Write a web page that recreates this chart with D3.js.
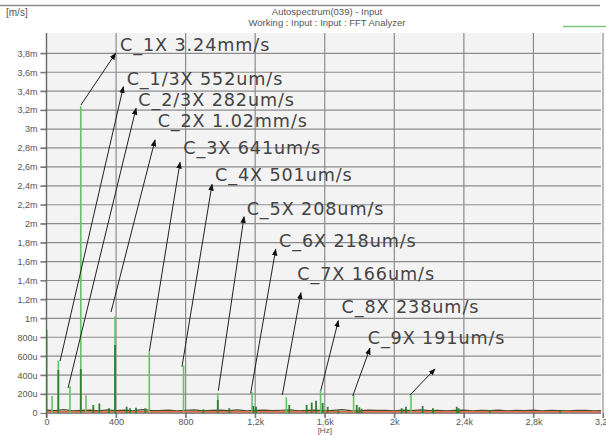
<!DOCTYPE html>
<html lang="en">
<head>
    <meta charset="UTF-8">
    <title>Autospectrum(039) - Input</title>
    <script src="https://d3js.org/d3.v7.min.js"></script>
    <style>
        body { margin: 0; background: #fff; }
        .tick-label { font-family: "Liberation Sans", Arial, sans-serif; font-size: 9px; fill: #555; }
        .anno { font-family: "DejaVu Sans", sans-serif; font-size: 17.6px; letter-spacing: 0.9px; fill: #444; }
    </style>
</head>
<body>
    <svg id="chart" width="606" height="435"></svg>

    <script>
        // frequency axis (Hz) and level axis (um/s)
        const xTickValues = [0, 400, 800, 1200, 1600, 2000, 2400, 2800, 3200];
        const xTickLabels = ["0", "400", "800", "1,2k", "1,6k", "2k", "2,4k", "2,8k", "3,2k"];
        const yTickValues = d3.range(0, 3801, 200);
        const yTickLabels = ["0", "200u", "400u", "600u", "800u", "1m", "1,2m", "1,4m", "1,6m", "1,8m",
            "2m", "2,2m", "2,4m", "2,6m", "2,8m", "3m", "3,2m", "3,4m", "3,6m", "3,8m"];

        // light green trace: [Hz, um/s]
        const peaksLight = [
            [32, 180], [68, 552], [135, 282], [197, 3240], [227, 185], [394, 1020], [591, 641],
            [788, 501], [985, 208], [1182, 218], [1379, 166], [1576, 238], [1766, 191], [2096, 192]
        ];
        // dark green trace: [Hz, um/s]
        const peaksDark = [
            [0, 880], [68, 455], [197, 465], [394, 718], [985, 137], [269, 85], [304, 100], [359, 50],
            [461, 67], [480, 50], [515, 55], [568, 50], [902, 40], [1051, 50], [1190, 74], [1205, 67],
            [1396, 85], [1496, 85], [1525, 110], [1550, 130], [1588, 106], [1617, 66], [1678, 30],
            [1784, 85], [1799, 60], [1812, 45], [2042, 50], [2067, 65], [2163, 74], [2222, 50],
            [2359, 66], [2370, 50], [2550, 30], [2953, 25]
        ];
        // low-level floor under the peaks, every 50 Hz (um/s)
        const floorNoise = [30, 25, 35, 22, 28, 30, 24, 33, 26, 30, 22, 35, 27, 25, 31, 24, 29, 33, 22, 27,
            30, 26, 34, 23, 28, 31, 25, 29, 33, 24, 27, 30, 22, 28, 35, 26, 24, 31, 27, 29,
            23, 30, 26, 33, 25, 28, 22, 27, 30, 24, 29, 26, 31, 23, 27, 25, 30, 22, 28, 26,
            24, 29, 27, 23, 26];
        const redFloor = [[0, 14], [3200, 14]];

        // annotations: tail at peak, head near label, label anchor (all in Hz / um/s)
        const annotations = [
            { text: "C_1X 3.24mm/s", tail: [198, 3254], head: [397, 3800], label: [423, 3888] },
            { text: "C_1/3X 552um/s", tail: [78, 549], head: [442, 3447], label: [461, 3536] },
            { text: "C_2/3X 282um/s", tail: [124, 264], head: [515, 3219], label: [528, 3307] },
            { text: "C_2X 1.02mm/s", tail: [371, 1067], head: [624, 2884], label: [639, 3088] },
            { text: "C_3X 641um/s", tail: [591, 648], head: [768, 2649], label: [787, 2807] },
            { text: "C_4X 501um/s", tail: [779, 489], head: [952, 2416], label: [969, 2514] },
            { text: "C_5X 208um/s", tail: [988, 236], head: [1136, 2074], label: [1151, 2163] },
            { text: "C_6X 218um/s", tail: [1174, 208], head: [1318, 1730], label: [1337, 1820] },
            { text: "C_7X 166um/s", tail: [1356, 190], head: [1463, 1271], label: [1442, 1476] },
            { text: "C_8X 238um/s", tail: [1577, 236], head: [1678, 975], label: [1697, 1123] },
            { text: "C_9X 191um/s", tail: [1761, 180], head: [1860, 684], label: [1847, 800] },
            { text: "", tail: [2090, 190], head: [2234, 465], label: null }
        ];

        const plot = { left: 46.5, right: 601, top: 33, bottom: 413 };

        const svg = d3.select("#chart");

        const x = d3.scaleLinear().domain([0, 3200]).range([plot.left, 603]);
        const y = d3.scaleLinear().domain([0, 3800]).range([plot.bottom, 53.3]);

        // header
        svg.append("line")
            .attr("x1", 0).attr("x2", 600).attr("y1", 5.5).attr("y2", 5.5)
            .attr("stroke", "#8a8a8a").attr("stroke-width", 1.5);
        svg.append("text")
            .attr("class", "tick-label")
            .attr("x", 6).attr("y", 16)
            .style("font-size", "10px")
            .text("[m/s]");
        svg.append("text")
            .attr("class", "tick-label")
            .attr("x", 327).attr("y", 15)
            .attr("text-anchor", "middle")
            .style("font-size", "9.5px")
            .text("Autospectrum(039) - Input");
        svg.append("text")
            .attr("class", "tick-label")
            .attr("x", 327).attr("y", 26)
            .attr("text-anchor", "middle")
            .style("font-size", "9.5px")
            .text("Working : Input : Input : FFT Analyzer");
        svg.append("line")
            .attr("x1", 563).attr("x2", 606).attr("y1", 26.5).attr("y2", 26.5)
            .attr("stroke", "#7cc47c").attr("stroke-width", 1.5);

        // plot background
        svg.append("rect")
            .attr("x", plot.left).attr("y", plot.top)
            .attr("width", plot.right - plot.left).attr("height", plot.bottom - plot.top)
            .attr("fill", "#f3f3f3");

        svg.append("defs").append("clipPath").attr("id", "clip")
            .append("rect")
            .attr("x", plot.left).attr("y", plot.top)
            .attr("width", plot.right - plot.left).attr("height", plot.bottom - plot.top + 1);

        // grid
        svg.append("g").selectAll("line")
            .data(yTickValues.slice(1))
            .join("line")
            .attr("x1", plot.left - 6).attr("x2", plot.right)
            .attr("y1", d => y(d)).attr("y2", d => y(d))
            .attr("stroke", "#8c8c8c").attr("stroke-width", 1.2);
        svg.append("g").selectAll("line")
            .data(xTickValues.slice(1))
            .join("line")
            .attr("x1", d => x(d)).attr("x2", d => x(d))
            .attr("y1", plot.top).attr("y2", plot.bottom + 5)
            .attr("stroke", "#8c8c8c").attr("stroke-width", 1.2);

        // axes
        const yAxis = svg.append("g")
            .attr("transform", `translate(${plot.left},0)`)
            .call(d3.axisLeft(y).tickValues(yTickValues).tickSize(6).tickPadding(3)
                .tickFormat((d, i) => yTickLabels[i]));
        const xAxis = svg.append("g")
            .attr("transform", `translate(0,${plot.bottom})`)
            .call(d3.axisBottom(x).tickValues(xTickValues).tickSize(5).tickPadding(1)
                .tickFormat((d, i) => xTickLabels[i]));
        [yAxis, xAxis].forEach(g => {
            g.select(".domain").remove();
            g.selectAll(".tick line").attr("stroke", "#777").attr("stroke-width", 1.2);
            g.selectAll(".tick text").attr("class", "tick-label").attr("fill", null);
        });
        svg.append("line")
            .attr("x1", plot.left).attr("x2", plot.left)
            .attr("y1", plot.top).attr("y2", plot.bottom + 5)
            .attr("stroke", "#666").attr("stroke-width", 1.4);
        svg.append("line")
            .attr("x1", plot.left).attr("x2", plot.right)
            .attr("y1", plot.bottom).attr("y2", plot.bottom)
            .attr("stroke", "#666").attr("stroke-width", 1.4);
        svg.append("text")
            .attr("class", "tick-label")
            .attr("x", x(1600)).attr("y", 433)
            .attr("text-anchor", "middle")
            .style("font-size", "8px")
            .text("[Hz]");

        // spectrum traces
        const traces = svg.append("g").attr("clip-path", "url(#clip)");

        traces.append("path")
            .datum(floorNoise)
            .attr("fill", "none")
            .attr("stroke", "#4a4a2a").attr("stroke-width", 1.2)
            .attr("d", d3.line().x((d, i) => x(i * 50)).y(d => y(d)));

        traces.append("path")
            .datum(redFloor)
            .attr("fill", "none")
            .attr("stroke", "#e0704c").attr("stroke-width", 1.6)
            .attr("d", d3.line().x(d => x(d[0])).y(d => y(d[1])));

        traces.selectAll(".peak-light")
            .data(peaksLight)
            .join("line")
            .attr("class", "peak-light")
            .attr("x1", d => x(d[0])).attr("x2", d => x(d[0]))
            .attr("y1", y(0)).attr("y2", d => y(d[1]))
            .attr("stroke", "#62c462").attr("stroke-width", 1.6);

        traces.selectAll(".peak-dark")
            .data(peaksDark)
            .join("line")
            .attr("class", "peak-dark")
            .attr("x1", d => x(d[0])).attr("x2", d => x(d[0]))
            .attr("y1", y(0)).attr("y2", d => y(d[1]))
            .attr("stroke", "#2f7f2f").attr("stroke-width", 1.8);

        // annotations
        svg.append("defs").append("marker")
            .attr("id", "arrow")
            .attr("markerUnits", "userSpaceOnUse")
            .attr("viewBox", "0 0 10 10")
            .attr("refX", 9).attr("refY", 5)
            .attr("markerWidth", 7).attr("markerHeight", 7)
            .attr("orient", "auto")
            .append("path")
            .attr("d", "M0,1 L10,5 L0,9 Z")
            .attr("fill", "#111");

        const anno = svg.append("g");
        anno.selectAll("line")
            .data(annotations)
            .join("line")
            .attr("x1", d => x(d.tail[0])).attr("y1", d => y(d.tail[1]))
            .attr("x2", d => x(d.head[0])).attr("y2", d => y(d.head[1]))
            .attr("stroke", "#222").attr("stroke-width", 1)
            .attr("marker-end", "url(#arrow)");
        anno.selectAll("text")
            .data(annotations.filter(d => d.label))
            .join("text")
            .attr("class", "anno")
            .attr("x", d => x(d.label[0]))
            .attr("y", d => y(d.label[1]))
            .attr("dy", "0.36em")
            .text(d => d.text);
    </script>
</body>
</html>
